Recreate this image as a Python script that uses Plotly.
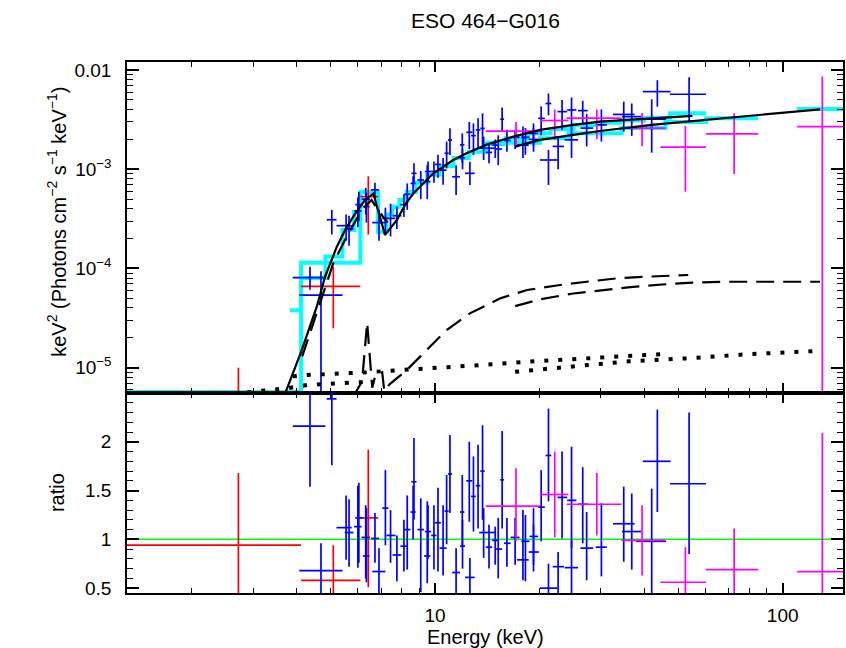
import plotly.graph_objects as go

FONT = "Liberation Sans, Arial, Helvetica, sans-serif"

# ---------------- red data set ----------------
red_E   = [2.72, 5.10, 6.43]
red_Elo = [1.30, 4.12, 6.10]
red_Ehi = [4.12, 6.10, 6.86]
red_F   = [4.0e-6, 6.6e-5, 5.3e-4]
red_Fhi = [1.0e-5, 1.04e-4, 8.5e-4]
red_Flo = [1.0e-7, 2.5e-5, 2.2e-4]
red_R   = [0.94, 0.58, 1.22]
red_Rhi = [1.68, 0.94, 1.92]
red_Rlo = [0.20, 0.20, 0.51]

# ---------------- blue data set ----------------
blue_E   = [4.37, 4.70, 5.05, 5.55, 5.66, 6.00, 6.04, 6.32, 6.35, 6.72,
            6.90, 7.20, 7.45, 7.77, 8.14, 8.32, 8.70, 8.65, 9.10, 9.50,
            9.55, 9.93, 10.2, 10.55, 10.8, 11.04, 11.5, 11.98, 12.0, 12.6,
            12.55, 12.9, 13.3, 13.7, 13.8, 14.3, 14.9, 15.2, 15.6, 16.1,
            17.0, 17.9, 18.2, 19.2, 19.2, 20.2, 21.2, 21.2, 22.6, 23.2,
            24.7, 24.7, 26.6, 27.3, 30.1, 34.9, 36.8, 42.0, 43.6, 53.8]
blue_Elo = [3.90, 4.07, 4.88, 5.21, 5.50, 5.85, 5.90, 6.15, 6.20, 6.55,
            6.60, 7.05, 7.25, 7.55, 7.95, 8.15, 8.55, 8.50, 8.90, 9.30,
            9.35, 9.75, 10.0, 10.3, 10.65, 10.9, 11.2, 11.8, 11.8, 12.2,
            12.3, 12.7, 13.1, 13.5, 13.4, 14.0, 14.6, 14.9, 15.4, 15.8,
            16.5, 17.2, 17.7, 18.7, 18.6, 19.8, 20.05, 20.8, 21.8, 22.5,
            24.0, 23.6, 25.8, 26.2, 29.0, 32.5, 34.5, 37.9, 39.6, 47.4]
blue_Ehi = [4.84, 5.42, 5.21, 5.76, 5.83, 6.15, 6.20, 6.50, 6.48, 6.90,
            7.20, 7.35, 7.70, 8.00, 8.35, 8.50, 8.85, 8.80, 9.30, 9.70,
            9.75, 10.1, 10.4, 10.8, 10.95, 11.2, 11.8, 12.15, 12.2, 13.0,
            12.8, 13.1, 13.5, 13.9, 14.9, 14.6, 15.2, 15.6, 15.8, 16.5,
            17.5, 18.6, 18.7, 19.8, 19.9, 20.7, 22.5, 21.6, 23.5, 24.0,
            25.5, 25.8, 27.5, 28.5, 31.2, 37.5, 39.2, 46.2, 47.6, 60.2]
blue_F   = [8.1e-5, 5.4e-5, 3.1e-4, 2.7e-4, 2.5e-4, 3.8e-4, 4.4e-4, 5.0e-4, 4.2e-4, 6.2e-4,
            2.9e-4, 3.2e-4, 3.2e-4, 3.4e-4, 4.4e-4, 5.6e-4, 9.1e-4, 7.2e-4, 7.8e-4, 7.5e-4,
            9.5e-4, 9.5e-4, 1.12e-3, 9.8e-4, 1.45e-3, 1.97e-3, 8.4e-4, 1.76e-3, 1.3e-3, 9.1e-4,
            2.36e-3, 2.18e-3, 2.49e-3, 2.58e-3, 1.63e-3, 1.48e-3, 1.75e-3, 1.6e-3, 3.2e-3, 1.95e-3,
            2.1e-3, 1.75e-3, 2.1e-3, 2.3e-3, 2.0e-3, 3.26e-3, 1.24e-3, 4.6e-3, 1.7e-3, 3.81e-3,
            3.96e-3, 1.98e-3, 3.9e-3, 2.6e-3, 2.8e-3, 3.57e-3, 3.39e-3, 3.2e-3, 6.06e-3, 5.7e-3]
blue_Fhi = [1.04e-4, 9.4e-5, 3.9e-4, 3.5e-4, 3.4e-4, 5.2e-4, 5.9e-4, 6.5e-4, 5.8e-4, 7.3e-4,
            3.9e-4, 4.1e-4, 4.5e-4, 4.2e-4, 5.6e-4, 7.2e-4, 1.15e-3, 8.5e-4, 9.6e-4, 1.1e-3,
            1.2e-3, 1.2e-3, 1.4e-3, 1.3e-3, 1.9e-3, 2.59e-3, 1.1e-3, 2.3e-3, 1.6e-3, 1.19e-3,
            3.0e-3, 2.9e-3, 3.26e-3, 3.66e-3, 2.13e-3, 1.8e-3, 2.0e-3, 2.2e-3, 4.2e-3, 2.5e-3,
            2.5e-3, 2.7e-3, 2.6e-3, 2.6e-3, 2.9e-3, 4.3e-3, 1.57e-3, 5.8e-3, 2.1e-3, 5.0e-3,
            5.3e-3, 2.6e-3, 4.9e-3, 3.6e-3, 4.0e-3, 4.8e-3, 4.6e-3, 5.07e-3, 7.9e-3, 8.45e-3]
blue_Flo = [6.1e-5, 3.0e-6, 2.2e-4, 1.9e-4, 1.7e-4, 2.6e-4, 3.0e-4, 3.5e-4, 2.9e-4, 4.9e-4,
            1.9e-4, 2.3e-4, 2.1e-4, 2.5e-4, 3.3e-4, 3.9e-4, 7.3e-4, 5.8e-4, 5.0e-4, 5.0e-4,
            7.5e-4, 7.3e-4, 8.2e-4, 7.0e-4, 1.02e-3, 1.39e-3, 5.5e-4, 1.15e-3, 1.0e-3, 6.95e-4,
            1.6e-3, 1.39e-3, 1.6e-3, 1.76e-3, 1.24e-3, 1.15e-3, 1.3e-3, 1.1e-3, 2.4e-3, 1.5e-3,
            1.6e-3, 1.3e-3, 1.4e-3, 1.7e-3, 1.5e-3, 2.2e-3, 6.95e-4, 3.5e-3, 1.0e-3, 2.5e-3,
            2.6e-3, 1.3e-3, 2.8e-3, 1.7e-3, 1.9e-3, 2.4e-3, 2.17e-3, 1.47e-3, 4.27e-3, 3.02e-3]
blue_R   = [2.16, 0.68, 2.44, 1.12, 1.07, 1.13, 1.22, 1.02, 0.83, 1.01,
            0.67, 1.32, 1.04, 0.84, 0.93, 1.10, 1.59, 1.28, 1.10, 0.83,
            1.08, 1.04, 1.17, 0.91, 1.29, 1.67, 0.66, 1.28, 0.93, 0.61,
            1.60, 1.44, 1.55, 1.70, 1.07, 0.92, 0.99, 0.90, 1.61, 0.96,
            1.02, 0.79, 0.98, 1.03, 0.87, 1.33, 0.50, 1.86, 0.72, 1.43,
            1.40, 0.71, 1.36, 0.91, 0.92, 1.16, 1.08, 0.98, 1.80, 1.57]
blue_Rhi = [2.55, 0.96, 2.80, 1.45, 1.41, 1.55, 1.58, 1.35, 1.32, 1.27,
            0.91, 1.71, 1.30, 1.04, 1.20, 1.45, 2.04, 1.55, 1.42, 1.39,
            1.35, 1.35, 1.53, 1.35, 1.66, 2.07, 0.91, 1.66, 1.20, 0.81,
            2.00, 1.85, 1.97, 2.17, 1.32, 1.15, 1.13, 1.22, 2.11, 1.22,
            1.22, 1.30, 1.25, 1.15, 1.32, 1.71, 0.75, 2.34, 0.87, 1.90,
            1.95, 0.99, 1.74, 1.28, 1.37, 1.54, 1.47, 1.52, 2.33, 2.30]
blue_Rlo = [1.54, 0.30, 1.76, 0.79, 0.72, 0.71, 0.76, 0.60, 0.56, 0.76,
            0.40, 0.94, 0.76, 0.57, 0.67, 0.69, 1.20, 1.00, 0.46, 0.55,
            0.80, 0.69, 0.67, 0.63, 0.95, 1.27, 0.40, 0.92, 0.70, 0.40,
            1.18, 1.08, 1.11, 1.20, 0.81, 0.70, 0.74, 0.60, 1.11, 0.72,
            0.74, 0.58, 0.57, 0.74, 0.67, 0.98, 0.30, 1.39, 0.40, 1.01,
            0.91, 0.40, 0.96, 0.58, 0.62, 0.77, 0.69, 0.30, 1.28, 0.85]

# ---------------- magenta data set ----------------
mag_E   = [17.1, 22.1, 29.2, 39.4, 52.5, 72.5, 130.0]
mag_Elo = [14.0, 20.05, 23.9, 34.4, 44.5, 60.2, 110.0]
mag_Ehi = [20.05, 24.2, 34.4, 46.0, 60.2, 85.0, 149.0]
mag_F   = [2.42e-3, 3.1e-3, 3.27e-3, 2.6e-3, 1.67e-3, 2.27e-3, 2.69e-3]
mag_Fhi = [3.0e-3, 4.0e-3, 4.0e-3, 3.7e-3, 2.73e-3, 3.66e-3, 8.6e-3]
mag_Flo = [1.69e-3, 1.98e-3, 2.0e-3, 1.72e-3, 5.94e-4, 8.96e-4, 1.0e-6]
mag_R   = [1.34, 1.46, 1.36, 0.99, 0.56, 0.69, 0.67]
mag_Rhi = [1.73, 1.90, 1.68, 1.35, 0.92, 1.11, 2.09]
mag_Rlo = [0.98, 1.02, 1.04, 0.63, 0.20, 0.30, 0.00]

# ---------------- folded model (cyan steps) ----------------
cyanR_edges = [1.30, 4.12, 6.10, 6.86]
cyanR_vals  = [5.7e-6, 1.14e-4, 5.9e-4, 5.9e-4]
cyanA_edges = [3.83, 4.12, 4.84, 5.42, 5.85, 6.10, 6.86, 7.25, 7.55, 7.90, 8.30, 8.80, 9.50,
               10.3, 11.3, 12.5, 14.0, 16.0, 18.5, 21.5, 25.0, 29.0, 34.0, 40.0, 47.4, 60.2]
cyanA_vals  = [3.8e-5, 8.0e-5, 1.32e-4, 2.44e-4, 3.7e-4, 5.9e-4, 2.35e-4, 3.5e-4, 4.2e-4, 4.9e-4,
               5.9e-4, 7.3e-4, 8.8e-4, 1.08e-3, 1.3e-3, 1.5e-3, 1.8e-3, 2.05e-3, 2.3e-3, 2.55e-3,
               2.8e-3, 2.95e-3, 3.1e-3, 3.3e-3, 3.66e-3, 3.66e-3]
cyanB_edges = [14.0, 20.05, 24.2, 34.4, 46.0, 60.2, 85.0, None, 110.0, 149.0]
cyanB_vals  = [1.85e-3, 2.05e-3, 2.3e-3, 2.6e-3, 3.0e-3, 3.27e-3, 3.27e-3, None, 4.04e-3, 4.04e-3]

# ---------------- model components ----------------
totA_E = [3.70, 4.14, 4.57, 4.83, 5.22, 5.50, 5.82, 6.29, 6.65, 7.18, 7.77, 8.20, 8.66,
          9.89, 11.29, 12.33, 14.08, 16.8, 20.05, 25.0, 29.8, 41.5, 55.0]
totA_F = [5.4e-6, 1.51e-5, 4.12e-5, 8.3e-5, 1.66e-4, 2.4e-4, 3.33e-4, 4.91e-4, 5.7e-4, 2.18e-4,
          3.08e-4, 4.37e-4, 5.7e-4, 9.1e-4, 1.24e-3, 1.45e-3, 1.77e-3, 2.13e-3, 2.49e-3, 2.80e-3,
          3.02e-3, 3.27e-3, 3.45e-3]
totB_E = [17.0, 20.05, 25.0, 29.8, 42.0, 57.8, 75.4, 128.0]
totB_F = [1.69e-3, 1.98e-3, 2.22e-3, 2.43e-3, 2.80e-3, 3.10e-3, 3.39e-3, 4.02e-3]
prim_E = [4.15, 4.60, 5.10, 5.57, 6.16, 6.57, 6.85, 7.30]
prim_F = [1.3e-5, 3.8e-5, 1.13e-4, 2.1e-4, 3.89e-4, 4.91e-4, 3.9e-4, 2.9e-4]
reflA_E = [5.80, 6.17, 6.38, 6.60, 6.75, 7.05, 7.15, 7.40, 8.30, 9.47, 10.8, 12.6,
           15.4, 18.4, 22.9, 27.3, 33.3, 40.6, 53.5]
reflA_F = [5.0e-6, 7.3e-6, 2.85e-5, 6.3e-6, 8.6e-6, 9.0e-6, 5.8e-6, 6.8e-6, 9.5e-6,
           1.51e-5, 2.4e-5, 3.53e-5, 5.0e-5, 6.07e-5, 6.82e-5, 7.35e-5, 7.95e-5, 8.26e-5, 8.6e-5]
reflB_E = [17.0, 20.05, 25.0, 30.8, 36.4, 45.0, 55.0, 67.0, 85.0, 128.0]
reflB_F = [4.18e-5, 4.9e-5, 5.6e-5, 6.14e-5, 6.5e-5, 6.9e-5, 7.2e-5, 7.35e-5, 7.35e-5, 7.35e-5]
scatR_E = [2.40, 2.72, 3.05, 3.40, 3.74, 4.30, 6.40]
scatR_F = [5.3e-6, 5.56e-6, 5.75e-6, 5.95e-6, 6.2e-6, 6.7e-6, 7.2e-6]
scatA_E = [3.90, 4.30, 6.36, 8.30, 13.9, 20.0, 30.0, 40.0, 45.0]
scatA_F = [8.2e-6, 8.45e-6, 9.0e-6, 9.5e-6, 1.07e-5, 1.17e-5, 1.27e-5, 1.34e-5, 1.37e-5]
scatC_E = [17.0, 25.0, 36.0, 55.0, 80.0, 128.0]
scatC_F = [9.1e-6, 1.03e-5, 1.16e-5, 1.25e-5, 1.37e-5, 1.48e-5]

# ---------------- axis ticks ----------------
x_ticks = [10, 100]
x_ticktext = ["10", "100"]
y_ticks = [1e-5, 1e-4, 1e-3, 1e-2]
y_ticktext = ["10<sup>\u22125</sup>", "10<sup>\u22124</sup>", "10<sup>\u22123</sup>", "0.01"]
r_ticks = [0.5, 1, 1.5, 2]
r_ticktext = ["0.5", "1", "1.5", "2"]

x_minor = [m * 10 ** d for d in (0, 1) for m in range(2, 10)]
y_minor = [m * 10.0 ** d for d in (-6, -5, -4, -3) for m in range(2, 10)]
r_minor = [round(0.5 + 0.1 * i, 2) for i in range(21)]

fig = go.Figure()


def steps(edges, vals, color):
    fig.add_trace(go.Scatter(x=edges, y=vals, mode="lines", line=dict(color=color, width=4, shape="hv"),
                             connectgaps=False, xaxis="x", yaxis="y", hoverinfo="skip"))


def data(E, Elo, Ehi, V, Vhi, Vlo, color, xa, ya):
    fig.add_trace(go.Scatter(
        x=E, y=V, mode="markers", marker=dict(size=1, color=color), xaxis=xa, yaxis=ya,
        hoverinfo="skip",
        error_x=dict(type="data", symmetric=False, array=[h - e for h, e in zip(Ehi, E)],
                     arrayminus=[e - l for e, l in zip(E, Elo)], color=color, thickness=1.7, width=0),
        error_y=dict(type="data", symmetric=False, array=[h - v for h, v in zip(Vhi, V)],
                     arrayminus=[v - l for v, l in zip(V, Vlo)], color=color, thickness=1.7, width=0)))


def curve(E, F, dash, width=2.2):
    fig.add_trace(go.Scatter(x=E, y=F, mode="lines", line=dict(color="black", width=width, dash=dash),
                             xaxis="x", yaxis="y", hoverinfo="skip"))


# cyan folded models
steps(cyanR_edges, cyanR_vals, "#00FFFF")
steps(cyanA_edges, cyanA_vals, "#00FFFF")
steps(cyanB_edges, cyanB_vals, "#00FFFF")

# data, top panel
data(red_E, red_Elo, red_Ehi, red_F, red_Fhi, red_Flo, "#FF0000", "x", "y")
data(blue_E, blue_Elo, blue_Ehi, blue_F, blue_Fhi, blue_Flo, "#0000FF", "x", "y")
data(mag_E, mag_Elo, mag_Ehi, mag_F, mag_Fhi, mag_Flo, "#FF00FF", "x", "y")

# model curves
curve(totA_E, totA_F, "solid")
curve(totB_E, totB_F, "solid")
curve(prim_E, prim_F, "18px,9px")
curve(reflA_E, reflA_F, "18px,9px")
curve(reflB_E, reflB_F, "18px,9px")
curve(scatR_E, scatR_F, "4px,10px", width=4)
curve(scatA_E, scatA_F, "4px,10px", width=4)
curve(scatC_E, scatC_F, "4px,10px", width=4)

# ratio panel
data(red_E, red_Elo, red_Ehi, red_R, red_Rhi, red_Rlo, "#FF0000", "x2", "y2")
data(blue_E, blue_Elo, blue_Ehi, blue_R, blue_Rhi, blue_Rlo, "#0000FF", "x2", "y2")
data(mag_E, mag_Elo, mag_Ehi, mag_R, mag_Rhi, mag_Rlo, "#FF00FF", "x2", "y2")

axis_common = dict(showline=True, linecolor="black", linewidth=1.5, mirror="allticks",
                   ticks="inside", tickcolor="black", tickwidth=1.5, showgrid=False, zeroline=False,
                   automargin=False, tickfont=dict(family=FONT, size=19, color="black"))

split = 0.3766
fig.update_layout(
    template="none",
    width=846, height=648, margin=dict(l=127, r=3, t=62, b=55, pad=0), autosize=False,
    paper_bgcolor="white", plot_bgcolor="white", showlegend=False,
    font=dict(family=FONT, size=19, color="black"),
    xaxis=dict(type="log", range=[0.1142, 2.1734], domain=[0, 1], anchor="y", showticklabels=False,
               tickmode="array", tickvals=x_ticks, ticktext=x_ticktext, ticklen=10,
               minor=dict(ticks="inside", ticklen=5, tickcolor="black", tickwidth=1.2,
                          tickmode="array", tickvals=x_minor), **axis_common),
    xaxis2=dict(type="log", range=[0.1142, 2.1734], domain=[0, 1], anchor="y2", matches="x",
                tickmode="array", tickvals=x_ticks, ticktext=x_ticktext, ticklen=10, ticklabelstandoff=4,
                minor=dict(ticks="inside", ticklen=5, tickcolor="black", tickwidth=1.2,
                           tickmode="array", tickvals=x_minor), **axis_common),
    yaxis=dict(type="log", range=[-5.255, -1.919], domain=[split, 1], anchor="x",
               tickmode="array", tickvals=y_ticks, ticktext=y_ticktext, ticklen=12, ticklabelstandoff=10,
               minor=dict(ticks="inside", ticklen=6, tickcolor="black", tickwidth=1.2,
                          tickmode="array", tickvals=y_minor), **axis_common),
    yaxis2=dict(range=[0.45, 2.5], domain=[0, split], anchor="x2",
                tickmode="array", tickvals=r_ticks, ticktext=r_ticktext, ticklen=12, ticklabelstandoff=10,
                minor=dict(ticks="inside", ticklen=6, tickcolor="black", tickwidth=1.2,
                           tickmode="array", tickvals=r_minor), **axis_common),
    shapes=[dict(type="line", xref="x2 domain", x0=0, x1=1, yref="y2", y0=1, y1=1,
                 line=dict(color="#00FF00", width=1.5), layer="below")],
    annotations=[
        dict(text="ESO 464\u2212G016", xref="paper", yref="paper", x=0.50, y=1.079,
             showarrow=False, font=dict(family=FONT, size=21), xanchor="center", yanchor="middle"),
        dict(text="keV<sup>2</sup> (Photons cm<sup>\u22122</sup> s<sup>\u22121</sup> keV<sup>\u22121</sup>)",
             xref="paper", yref="paper", x=-0.0978, y=0.699, textangle=-90, showarrow=False,
             font=dict(family=FONT, size=20), xanchor="center", yanchor="middle"),
        dict(text="ratio", xref="paper", yref="paper", x=-0.0978, y=0.19, textangle=-90,
             showarrow=False, font=dict(family=FONT, size=20), xanchor="center", yanchor="middle"),
        dict(text="Energy (keV)", xref="paper", yref="paper", x=0.50, y=-0.082, showarrow=False,
             font=dict(family=FONT, size=20), xanchor="center", yanchor="middle"),
    ],
)

fig.write_html("out.html", config={"displayModeBar": False},
               post_script="document.body.style.margin='0px';")
